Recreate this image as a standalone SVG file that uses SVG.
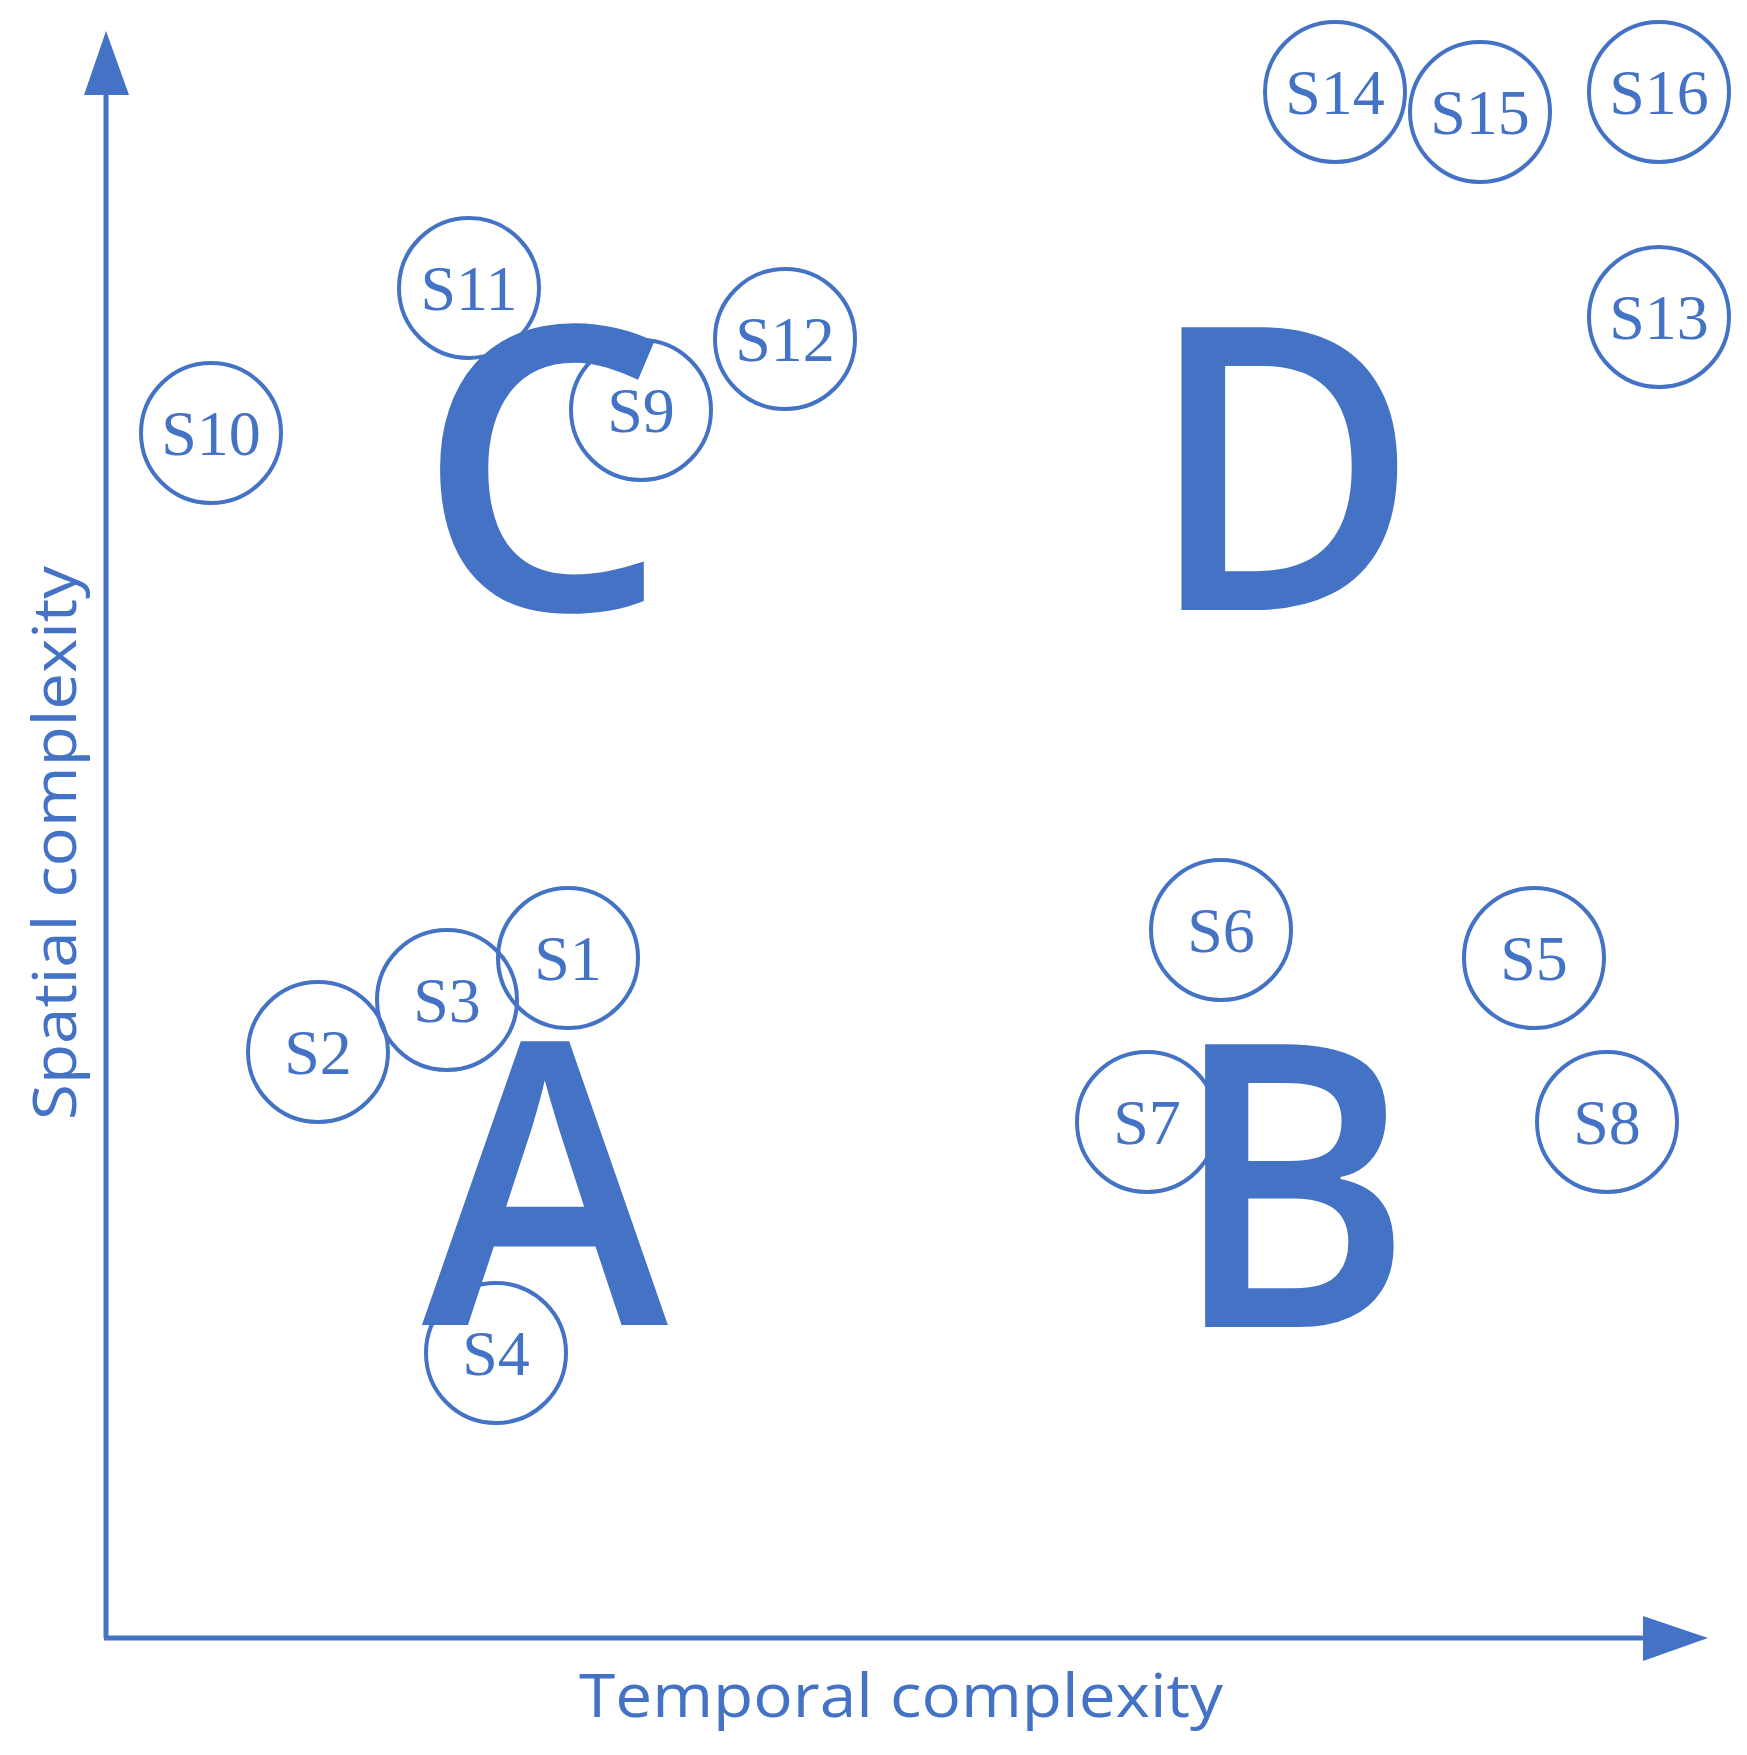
<svg xmlns="http://www.w3.org/2000/svg" width="1747" height="1755" viewBox="0 0 1747 1755">
<style>
.n circle{fill:none;stroke:#4472C4;stroke-width:4}
.n text{font-family:"Liberation Serif",serif;font-size:64px;fill:#4472C4;text-anchor:middle}
.big{font-family:"Open Sans",sans-serif;font-weight:600;font-size:396px;fill:#4472C4;text-anchor:middle}
.lab{font-family:"Open Sans",sans-serif;font-size:60px;fill:#4472C4;text-anchor:middle}
</style>
<rect width="1747" height="1755" fill="#fff"/>
<g id="axes">
<line x1="106" y1="1638" x2="106" y2="90" stroke="#4472C4" stroke-width="5"/>
<line x1="104" y1="1638" x2="1648" y2="1638" stroke="#4472C4" stroke-width="5"/>
<polygon points="106,31 84,95 129,95" fill="#4472C4"/>
<polygon points="1708,1638 1643,1616 1643,1661" fill="#4472C4"/>
<text class="lab" x="901" y="1717" textLength="644" lengthAdjust="spacingAndGlyphs">Temporal complexity</text>
<text class="lab" transform="translate(76,843) rotate(-90)" textLength="554" lengthAdjust="spacingAndGlyphs">Spatial complexity</text>
</g>
<g id="nodes">
<g class="n" id="S1"><circle cx="568" cy="958" r="70"/><text x="568" y="980">S1</text></g>
<g class="n" id="S2"><circle cx="318" cy="1052" r="70"/><text x="318" y="1074">S2</text></g>
<g class="n" id="S3"><circle cx="447" cy="1000" r="70"/><text x="447" y="1022">S3</text></g>
<g class="n" id="S4"><circle cx="496" cy="1353" r="70"/><text x="496" y="1375">S4</text></g>
<g class="n" id="S5"><circle cx="1534" cy="958" r="70"/><text x="1534" y="980">S5</text></g>
<g class="n" id="S6"><circle cx="1221" cy="930" r="70"/><text x="1221" y="952">S6</text></g>
<g class="n" id="S7"><circle cx="1147" cy="1122" r="70"/><text x="1147" y="1144">S7</text></g>
<g class="n" id="S8"><circle cx="1607" cy="1122" r="70"/><text x="1607" y="1144">S8</text></g>
<g class="n" id="S9"><circle cx="641" cy="410" r="70"/><text x="641" y="432">S9</text></g>
<g class="n" id="S10"><circle cx="211" cy="433" r="70"/><text x="211" y="455">S10</text></g>
<g class="n" id="S11"><circle cx="469" cy="288" r="70"/><text x="469" y="310">S11</text></g>
<g class="n" id="S12"><circle cx="785" cy="339" r="70"/><text x="785" y="361">S12</text></g>
<g class="n" id="S13"><circle cx="1659" cy="317" r="70"/><text x="1659" y="339">S13</text></g>
<g class="n" id="S14"><circle cx="1335" cy="92" r="70"/><text x="1335" y="114">S14</text></g>
<g class="n" id="S15"><circle cx="1480" cy="112" r="70"/><text x="1480" y="134">S15</text></g>
<g class="n" id="S16"><circle cx="1659" cy="92" r="70"/><text x="1659" y="114">S16</text></g>
</g>
<g id="regions">
<text class="big" transform="translate(545,1325) scale(0.94,1)">A</text>
<text class="big" transform="translate(1292,1327) scale(0.93,1)">B</text>
<text class="big" x="542" y="610">C</text>
<text class="big" transform="translate(1283,610) scale(0.94,1)">D</text>
</g>
</svg>
